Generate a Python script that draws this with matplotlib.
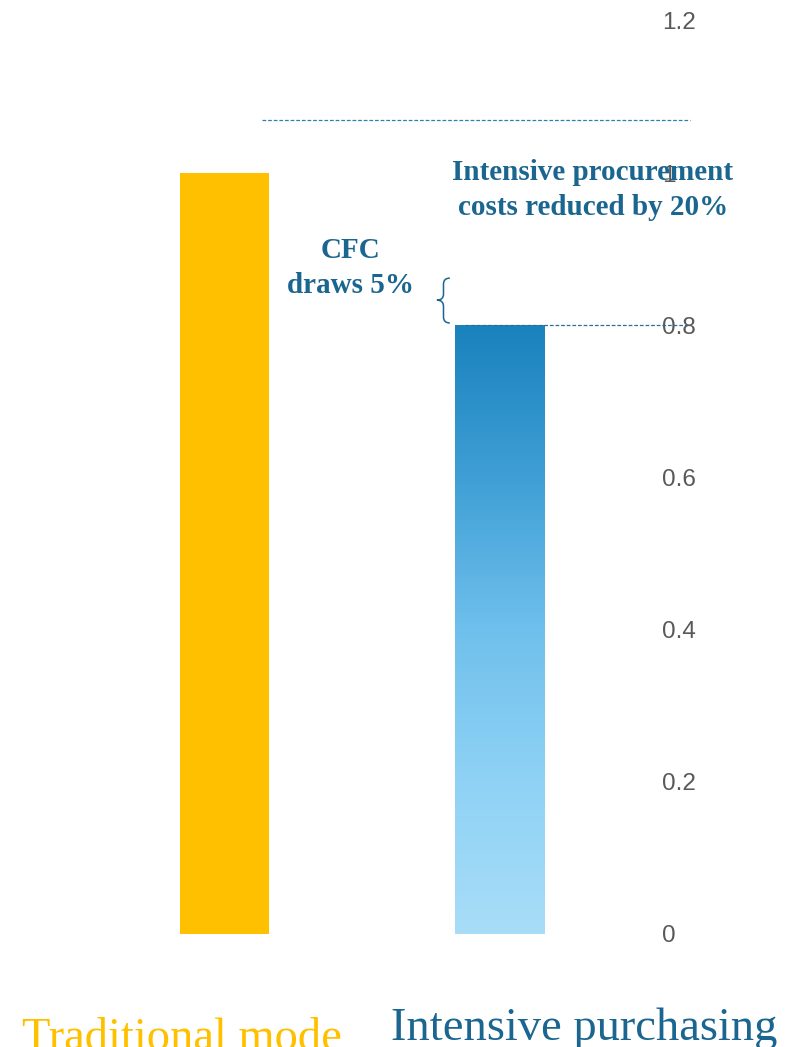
import numpy as np
import matplotlib.pyplot as plt
from matplotlib.colors import LinearSegmentedColormap
from matplotlib.patches import Rectangle, PathPatch
from matplotlib.path import Path

# chart values
categories = ["Traditional mode", "Intensive purchasing"]
values = [1.0, 0.8]
ref_level = 1.07          # upper dashed reference line
yticks = [0, 0.2, 0.4, 0.6, 0.8, 1, 1.2]
ytick_labels = ["0", "0.2", "0.4", "0.6", "0.8", "1", "1.2"]

navy = "#1b6690"
orange = "#FFC000"


def main():
    fig = plt.figure(figsize=(8.05, 10.47), dpi=100)
    ax = fig.add_axes([0.108, 0.108, 0.683, 0.872])

    x = np.arange(len(categories))
    width = 0.324

    bars = ax.bar(x, values, width=width, color=[orange, "none"], zorder=2)

    # gradient fill for the second bar
    cmap = LinearSegmentedColormap.from_list(
        "blues", ["#a8ddf8", "#8fd2f5", "#6fc0ec", "#3f9fd5", "#1a82bd"])
    b = bars[1]
    grad = np.linspace(0, 1, 256).reshape(-1, 1)
    im = ax.imshow(grad, cmap=cmap, origin="lower", aspect="auto",
                   extent=[b.get_x(), b.get_x() + b.get_width(), 0, b.get_height()],
                   zorder=2)
    clip = Rectangle((b.get_x(), 0), b.get_width(), b.get_height(), transform=ax.transData)
    im.set_clip_path(clip)

    ax.set_xlim(-0.5, 1.5)
    ax.set_ylim(0, 1.2)

    # dashed reference lines
    ax.plot([0.136, 1.693], [ref_level, ref_level], ls="--", lw=0.9,
            color="#2e7fb0", clip_on=False, dashes=(3, 1.5))
    ax.plot([0.874, 1.693], [values[1], values[1]], ls="--", lw=0.9,
            color="#2e6e96", clip_on=False, dashes=(3, 1.5), zorder=3)

    # y axis on the right, no spines
    ax.yaxis.tick_right()
    ax.set_yticks(yticks)
    ax.set_yticklabels(ytick_labels, fontsize=17.5, color="#595959",
                       family="Liberation Sans")
    ax.tick_params(axis="y", length=0, pad=18)
    ax.set_xticks([])
    for s in ax.spines.values():
        s.set_visible(False)

    # annotations
    ax.text(1.34, 0.978, "Intensive procurement\ncosts reduced by 20%", ha="center",
            va="center", fontsize=21, fontweight="bold", color=navy,
            family="Liberation Serif", linespacing=1.36, zorder=5, clip_on=False)
    ax.text(0.457, 0.875, "CFC\ndraws 5%", ha="center", va="center",
            fontsize=21, fontweight="bold", color=navy,
            family="Liberation Serif", linespacing=1.38)

    # curly brace next to the CFC note
    xl, xm, xr = 0.773, 0.797, 0.82
    yt, ymid, yb, d = 0.862, 0.833, 0.803, 0.008
    verts = [(xr, yt), (xm, yt), (xm, yt - d),
             (xm, ymid + d), (xm, ymid), (xl, ymid),
             (xm, ymid), (xm, ymid - d),
             (xm, yb + d), (xm, yb), (xr, yb)]
    codes = [Path.MOVETO, Path.CURVE3, Path.CURVE3,
             Path.LINETO, Path.CURVE3, Path.CURVE3,
             Path.CURVE3, Path.CURVE3,
             Path.LINETO, Path.CURVE3, Path.CURVE3]
    ax.add_patch(PathPatch(Path(verts, codes), fill=False, lw=1.1,
                           edgecolor=navy, zorder=4))

    # category labels under the bars
    ax.text(-0.155, -0.152, categories[0], ha="center", va="baseline",
            fontsize=33.5, color=orange, family="Liberation Serif", clip_on=False)
    ax.text(1.31, -0.139, categories[1], ha="center", va="baseline",
            fontsize=33.5, color=navy, family="Liberation Serif", clip_on=False)

    fig.savefig("out.png", dpi=100)


if __name__ == "__main__":
    main()
